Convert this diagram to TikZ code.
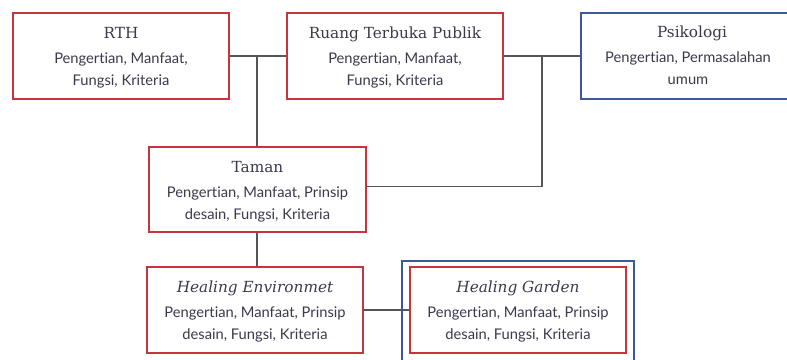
\documentclass[tikz,border=0pt]{standalone}
\usepackage{fontspec}
\usetikzlibrary{calc}
\setmainfont{DejaVu Serif}
\newfontfamily\bodyfont[Ligatures={NoCommon}]{Lato}
\definecolor{boxred}{HTML}{C8343C}
\definecolor{boxblue}{HTML}{3C5A9B}
\definecolor{txt}{HTML}{3A3A4E}
\definecolor{ln}{HTML}{555555}
\begin{document}
\begin{tikzpicture}[x=1pt,y=-1pt,
  box/.style={draw=boxred, line width=2.6pt, fill=white, minimum width=216pt, minimum height=86pt, inner sep=0pt, text=txt, align=center},
  bluebox/.style={draw=boxblue, line width=2.6pt, minimum width=#1, minimum height=86pt, inner sep=0pt, text=txt, align=center},
  conn/.style={draw=ln, line width=1.3pt},
  ttl/.style={font=\fontsize{15.3}{18}\selectfont, text=txt, anchor=base, inner sep=0pt},
  bdy/.style={font=\bodyfont\fontsize{14.7}{22}\selectfont, text=txt, align=center}]
\useasboundingbox (0,0) rectangle (787,359);
\fill[white] (0,0) rectangle (787,359);
% boxes
\node[box] (rth) at (121,56) {};
\node[box] (rtp) at (395,56) {};
\node[bluebox=216pt] (psi) at (689,56) {};
\node[box, minimum width=217pt, minimum height=85pt] (tam) at (257.5,189.5) {};
\node[box] (he) at (255,310) {};
\node[draw=boxblue, line width=2.6pt, minimum width=232pt, minimum height=101pt, inner sep=0pt] (hgo) at (518,311.5) {};
\node[box] (hg) at (518,310) {};
% texts
\node[ttl] (rtht) at (121,38.3) {RTH};
\node[bdy] (rthb) at (121,70) {Pengertian, Manfaat,\\Fungsi, Kriteria};
\node[ttl] (rtpt) at (395,38.3) {Ruang Terbuka Publik};
\node[bdy] (rtpb) at (395,70) {Pengertian, Manfaat,\\Fungsi, Kriteria};
\node[ttl] (psit) at (692,37.5) {Psikologi};
\node[bdy] (psib) at (688,68) {Pengertian, Permasalahan\\umum};
\node[ttl] (tamt) at (257.5,172.5) {Taman};
\node[bdy] (tamb) at (257.5,204) {Pengertian, Manfaat, Prinsip\\desain, Fungsi, Kriteria};
\node[ttl] (het) at (255,292.5) {\itshape Healing Environmet};
\node[bdy] (heb) at (255,324) {Pengertian, Manfaat, Prinsip\\desain, Fungsi, Kriteria};
\node[ttl] (hgt) at (518,292.5) {\itshape Healing Garden};
\node[bdy] (hgb) at (518,324) {Pengertian, Manfaat, Prinsip\\desain, Fungsi, Kriteria};
% connectors
\coordinate (j1) at (257,56);
\coordinate (j2) at (542,56);
\draw[conn] (rth.east) -- (rtp.west);
\draw[conn] (rtp.east) -- (psi.west);
\draw[conn] (j1) -- (j1 |- tam.north);
\draw[conn] (j2) |- ($(tam.east)+(0,-3)$);
\draw[conn] (j1 |- tam.south) -- (j1 |- he.north);
\draw[conn] (he.east) -- (hg.west);
\end{tikzpicture}
\end{document}
